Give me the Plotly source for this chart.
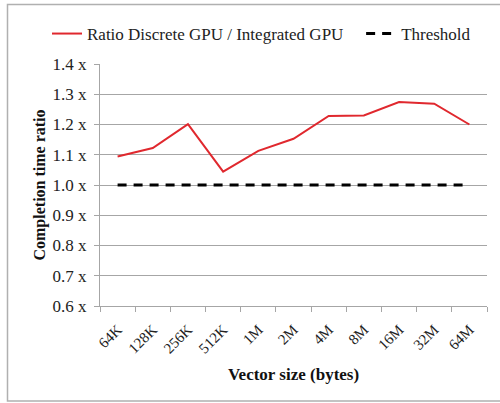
import plotly.graph_objects as go

categories = ["64K", "128K", "256K", "512K", "1M", "2M", "4M", "8M", "16M", "32M", "64M"]
ratio = [1.094, 1.122, 1.201, 1.044, 1.113, 1.153, 1.228, 1.230, 1.274, 1.269, 1.200]
threshold = [1.0] * len(categories)
ytick_vals = [0.6, 0.7, 0.8, 0.9, 1.0, 1.1, 1.2, 1.3, 1.4]
ytick_text = ["0.6 x", "0.7 x", "0.8 x", "0.9 x", "1.0 x", "1.1 x", "1.2 x", "1.3 x", "1.4 x"]

FONT = "Liberation Serif"

fig = go.Figure()
fig.add_trace(go.Scatter(x=categories, y=ratio, mode="lines",
                         name="Ratio Discrete GPU / Integrated GPU\u00a0\u00a0\u00a0",
                         line=dict(color="#e0282e", width=2)))
fig.add_trace(go.Scatter(x=categories, y=threshold, mode="lines",
                         name="Threshold",
                         line=dict(color="#000000", width=3, dash="9px,7px")))

L, R, T, B = 100, 13, 64, 97
W, H = 500, 403
pw, ph = W - L - R, H - T - B

fig.update_layout(
    width=W, height=H,
    margin=dict(l=L, r=R, t=T, b=B, pad=0, autoexpand=False),
    paper_bgcolor="white", plot_bgcolor="white",
    font=dict(family=FONT, size=14, color="#222222"),
    showlegend=True,
    legend=dict(orientation="h", x=(47 - L) / pw, xanchor="left",
                y=(H - B - 34) / ph, yanchor="middle",
                font=dict(family=FONT, size=17, color="#222222"),
                bgcolor="rgba(0,0,0,0)", itemwidth=30),
    xaxis=dict(
        type="category", tickangle=-45, showgrid=False,
        showline=True, linecolor="#a6a6a6", linewidth=1,
        ticks="outside", ticklen=5, tickcolor="#a6a6a6", tickson="boundaries",
        tickfont=dict(family=FONT, size=15, color="#222222"),
        ticklabelstandoff=8,
        range=[-0.5, len(categories) - 0.5],
        automargin=False,
        title=dict(text="<b>Vector size (bytes)</b>", font=dict(family=FONT, size=17, color="#111111"), standoff=12),
    ),
    yaxis=dict(
        range=[0.6, 1.4], tickvals=ytick_vals, ticktext=ytick_text,
        showgrid=True, gridcolor="#a6a6a6", gridwidth=1,
        showline=True, linecolor="#a6a6a6", linewidth=1,
        ticks="outside", ticklen=5, tickcolor="#a6a6a6",
        tickfont=dict(family=FONT, size=17, color="#222222"),
        ticklabelstandoff=4,
        zeroline=False, automargin=False,
        title=dict(text="<b>Completion time ratio</b>", font=dict(family=FONT, size=16, color="#111111"), standoff=2),
    ),
)

# outer border
fig.add_shape(type="rect", xref="paper", yref="paper",
              x0=(7.5 - L) / pw, x1=(520 - L) / pw,
              y0=(H - B - 401) / ph, y1=(H - B - 4.5) / ph,
              line=dict(color="#b0b0b0", width=1.5), fillcolor="rgba(0,0,0,0)", layer="below")

fig.write_html("out.html", config={"displayModeBar": False},
               post_script="document.body.style.margin='0px';")
